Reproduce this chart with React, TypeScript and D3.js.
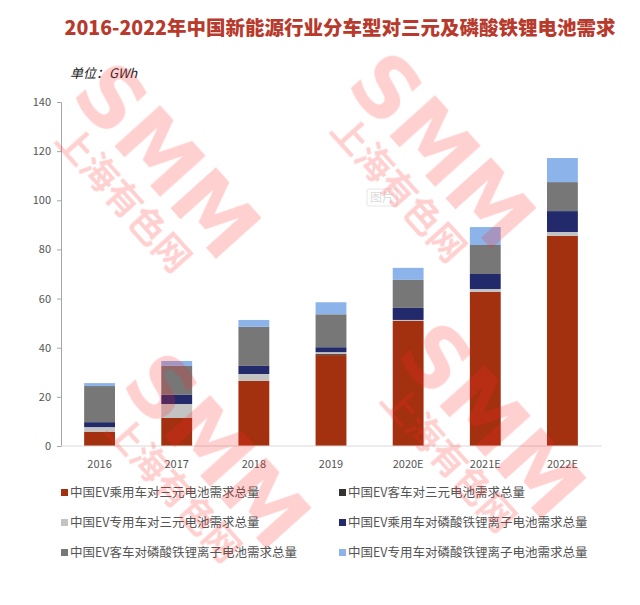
import React, { useEffect, useRef } from 'react';
import * as d3 from 'd3';

const years = ['2016', '2017', '2018', '2019', '2020E', '2021E', '2022E'];
const passengerNcm = [5.7, 11.4, 26.5, 37.0, 50.9, 62.7, 85.5];
const busNcm = [0, 0, 0, 0.4, 0, 0, 0];
const specialNcm = [2.0, 5.7, 2.8, 0.8, 0.4, 1.2, 1.6];
const passengerLfp = [2.0, 3.7, 3.3, 2.0, 4.9, 6.1, 8.5];
const busLfp = [14.7, 11.8, 15.9, 13.4, 11.4, 11.8, 11.8];
const specialLfp = [1.2, 2.0, 2.8, 4.9, 4.9, 7.3, 9.8];
const yTicks = [0, 20, 40, 60, 80, 100, 120, 140];

const seriesNames = [
  '中国EV乘用车对三元电池需求总量',
  '中国EV客车对三元电池需求总量',
  '中国EV专用车对三元电池需求总量',
  '中国EV乘用车对磷酸铁锂离子电池需求总量',
  '中国EV客车对磷酸铁锂离子电池需求总量',
  '中国EV专用车对磷酸铁锂离子电池需求总量',
];
const seriesValues = [passengerNcm, busNcm, specialNcm, passengerLfp, busLfp, specialLfp];
const colors = ['#a3300f', '#333333', '#c3c3c3', '#222a6b', '#777777', '#8db4ea'];

const App: React.FC = () => {
  const ref = useRef<SVGSVGElement | null>(null);

  useEffect(() => {
    if (!ref.current) return;
    const svg = d3.select(ref.current);
    svg.selectAll('*').remove();

    const width = 640;
    const height = 605;
    const margin = { top: 102, right: 40, bottom: 159, left: 61 };
    const font = '"Microsoft YaHei", "Noto Sans CJK SC", "DejaVu Sans", sans-serif';

    svg.attr('width', width).attr('height', height).style('font-family', font);
    svg.append('rect').attr('width', width).attr('height', height).attr('fill', '#fff');

    svg
      .append('text')
      .attr('x', 340)
      .attr('y', 35)
      .attr('text-anchor', 'middle')
      .attr('fill', '#b83a2c')
      .style('font-size', '19.5px')
      .style('font-weight', '900')
      .text('2016-2022年中国新能源行业分车型对三元及磷酸铁锂电池需求');

    svg
      .append('text')
      .attr('x', 70)
      .attr('y', 78)
      .attr('fill', '#222')
      .style('font-size', '13px')
      .style('font-style', 'italic')
      .text('单位：GWh');

    const table = years.map((year, i) => {
      const row: any = { year };
      seriesNames.forEach((name, j) => (row[name] = seriesValues[j][i]));
      return row;
    });
    const stacked = d3.stack<any>().keys(seriesNames)(table);

    const x = d3
      .scaleBand()
      .domain(years)
      .range([margin.left, width - margin.right + 1])
      .paddingInner(0.6)
      .paddingOuter(0.3);
    const y = d3
      .scaleLinear()
      .domain([0, 140])
      .range([height - margin.bottom, margin.top]);

    const g = svg.append('g');
    stacked.forEach((layer, j) => {
      g.selectAll(null)
        .data(layer)
        .enter()
        .append('rect')
        .attr('x', (d: any) => x(d.data.year) as number)
        .attr('width', x.bandwidth())
        .attr('y', (d: any) => y(d[1]))
        .attr('height', (d: any) => Math.max(0, y(d[0]) - y(d[1])))
        .attr('fill', colors[j]);
    });

    const axisColor = '#a6a6a6';
    const yAxis = svg
      .append('g')
      .attr('transform', `translate(${margin.left},0)`)
      .call(d3.axisLeft(y).tickValues(yTicks).tickSize(4).tickPadding(6));
    yAxis.select('.domain').attr('stroke', axisColor);
    yAxis.selectAll('.tick line').attr('stroke', axisColor);
    yAxis
      .selectAll('.tick text')
      .attr('fill', '#555')
      .style('font-size', '11px')
      .style('font-family', font);

    svg
      .append('line')
      .attr('x1', margin.left)
      .attr('x2', width - margin.right + 2)
      .attr('y1', y(0))
      .attr('y2', y(0))
      .attr('stroke', '#d9d9d9');

    svg
      .append('g')
      .selectAll('text')
      .data(years)
      .enter()
      .append('text')
      .attr('x', (d) => (x(d) as number) + x.bandwidth() / 2)
      .attr('y', y(0) + 22)
      .attr('text-anchor', 'middle')
      .attr('fill', '#555')
      .style('font-size', '11px')
      .text((d) => d);

    // legend, two columns
    const legend = svg.append('g');
    seriesNames.forEach((name, i) => {
      const lx = i % 2 === 0 ? 61 : 339;
      const ly = 492 + Math.floor(i / 2) * 30;
      legend
        .append('rect')
        .attr('x', lx)
        .attr('y', ly - 3)
        .attr('width', 7)
        .attr('height', 7)
        .attr('fill', colors[i]);
      legend
        .append('text')
        .attr('x', lx + 9)
        .attr('y', ly + 5)
        .attr('fill', '#555')
        .style('font-size', '12.5px')
        .text(name);
    });

    // faint image placeholder
    svg
      .append('rect')
      .attr('x', 367)
      .attr('y', 189)
      .attr('width', 30)
      .attr('height', 17)
      .attr('rx', 2)
      .attr('fill', '#fff')
      .attr('stroke', '#e6e6e6');
    svg
      .append('text')
      .attr('x', 382)
      .attr('y', 202)
      .attr('text-anchor', 'middle')
      .attr('fill', '#dcdcdc')
      .style('font-size', '12px')
      .text('图片');

    // watermarks
    const marks = [
      [145, 180],
      [420, 170],
      [195, 470],
      [470, 440],
    ];
    const wm = svg.append('g').attr('opacity', 0.22).attr('fill', '#ff2a2a');
    marks.forEach(([cx, cy]) => {
      const m = wm.append('g').attr('transform', `translate(${cx},${cy}) rotate(48)`);
      m.append('text')
        .attr('text-anchor', 'middle')
        .attr('y', 0)
        .style('font-size', '84px')
        .style('font-weight', 'bold')
        .style('font-family', '"DejaVu Sans", sans-serif')
        .text('SMM');
      m.append('text')
        .attr('text-anchor', 'middle')
        .attr('y', 42)
        .style('font-size', '36px')
        .style('font-weight', 'bold')
        .text('上海有色网');
    });
  }, []);

  return <svg ref={ref} style={{ position: 'absolute', left: 0, top: 0 }} />;
};

export default App;
